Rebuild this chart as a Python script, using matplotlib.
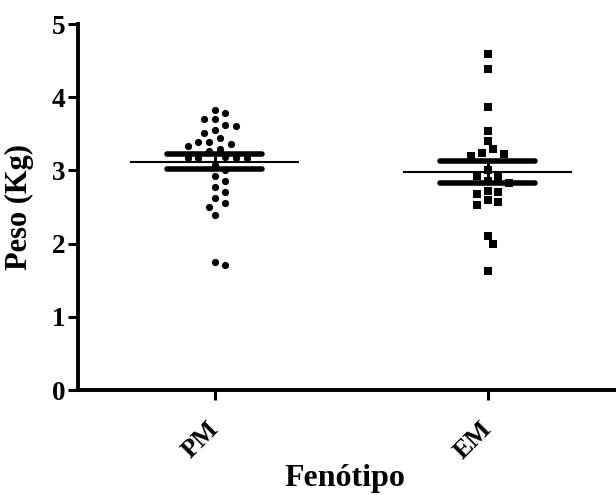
import numpy as np
import matplotlib
matplotlib.use("Agg")
import matplotlib.pyplot as plt

# ---- data ----
categories = ["PM", "EM"]
pm_values = [3.83, 3.79, 3.70, 3.70, 3.62, 3.60, 3.55, 3.51, 3.44, 3.39, 3.39,
             3.36, 3.33, 3.29, 3.26, 3.17, 3.17, 3.18, 3.17, 3.17, 3.08, 3.00,
             2.93, 2.86, 2.78, 2.70, 2.62, 2.56, 2.50, 2.39, 1.75, 1.71]
em_values = [4.59, 4.39, 3.87, 3.54, 3.40, 3.29, 3.24, 3.22, 3.19, 3.00, 2.92,
             2.91, 2.85, 2.83, 2.72, 2.71, 2.68, 2.59, 2.57, 2.53, 2.10, 1.99, 1.62]
mean_values = [3.12, 2.98]
sem_values = [0.10, 0.15]
y_ticks = [0, 1, 2, 3, 4, 5]

# ---- layout ----
W, H, DPI = 6.16, 4.95, 100
fig = plt.figure(figsize=(W, H), dpi=DPI)
ax_left, ax_bottom, ax_w, ax_h = 78/616, 105/495, 538/616, 366/495
ax = fig.add_axes([ax_left, ax_bottom, ax_w, ax_h])
xlim = (-0.50, 1.47)
ylim = (0, 5)
ax.set_xlim(*xlim)
ax.set_ylim(*ylim)

px_per_x = ax_w * W * DPI / (xlim[1] - xlim[0])
px_per_y = ax_h * H * DPI / (ylim[1] - ylim[0])

def swarm_offsets(values, gap_px, step_px):
    vals = np.asarray(values, dtype=float)
    order = np.argsort(-vals)
    placed = []
    offs = np.zeros(len(vals))
    for n, i in enumerate(order):
        y = vals[i] * px_per_y
        cands = [0.0]
        for k in range(1, 40):
            if n % 2 == 0:
                cands += [-k * step_px, k * step_px]
            else:
                cands += [k * step_px, -k * step_px]
        for x in cands:
            ok = all((x - px) ** 2 + (y - py) ** 2 >= gap_px ** 2
                     for px, py in placed)
            if ok:
                break
        placed.append((x, y))
        offs[i] = x / px_per_x
    return offs

groups = [pm_values, em_values]
markers = ["o", "s"]
for gi, (vals, mk) in enumerate(zip(groups, markers)):
    offs = swarm_offsets(vals, 9.5, 5.4)
    ax.plot(gi + offs, vals, linestyle="none", marker=mk, markersize=5.2,
            color="black", markeredgewidth=0, zorder=3)
    m, s = mean_values[gi], sem_values[gi]
    ax.hlines(m, gi - 0.31, gi + 0.31, color="black", linewidth=1.5, zorder=4)
    ax.hlines([m - s, m + s], gi - 0.175, gi + 0.175, color="black",
              linewidth=4.0, capstyle="round", zorder=4)
    ax.vlines(gi, m - s, m + s, color="black", linewidth=2.2, zorder=4)

# ---- axes styling ----
for sp in ["top", "right"]:
    ax.spines[sp].set_visible(False)
for sp in ["left", "bottom"]:
    ax.spines[sp].set_linewidth(2.8)
    ax.spines[sp].set_capstyle("projecting")

font = "Liberation Serif"
ax.set_yticks(y_ticks)
ax.set_yticklabels([str(t) for t in y_ticks], fontfamily=font,
                   fontweight="bold", fontsize=19.5)
ax.set_xticks(range(len(categories)))
ax.set_xticklabels(categories, fontfamily=font, fontweight="bold", fontsize=19,
                   rotation=45, ha="right", va="center", rotation_mode="anchor")
ax.tick_params(axis="y", direction="out", length=7.5, width=2.2, pad=1.5)
ax.tick_params(axis="x", direction="out", length=7.5, width=2.2, pad=18)

ax.set_ylabel("Peso (Kg)", fontfamily=font, fontweight="bold", fontsize=22)
ax.yaxis.set_label_coords(-0.082, 0.5)
ax.set_xlabel("Fenótipo", fontfamily=font, fontweight="bold", fontsize=23)
ax.xaxis.set_label_coords(0.497, -0.262)
ax.xaxis.label.set_va("baseline")

fig.savefig("out.png", dpi=DPI)
